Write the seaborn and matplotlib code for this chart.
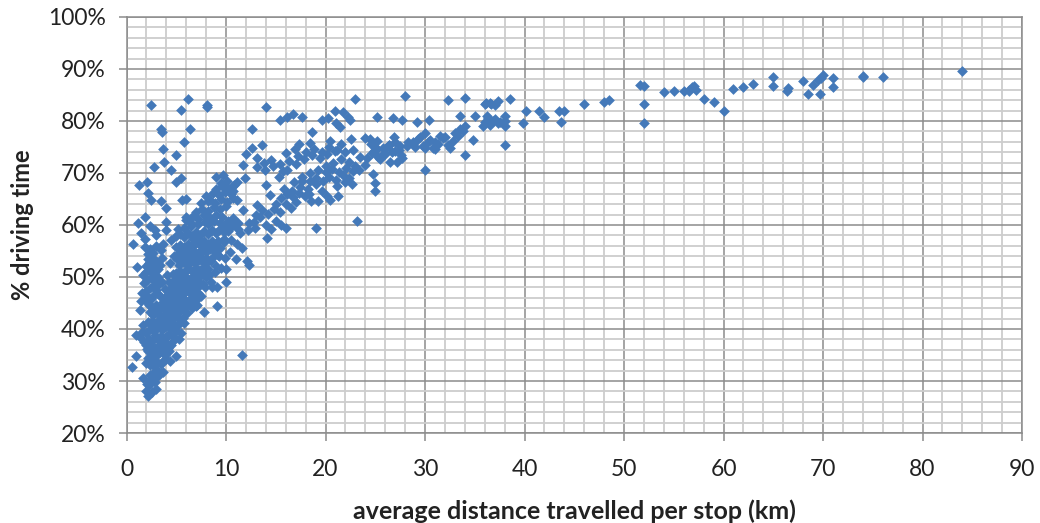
import numpy as np
import pandas as pd
import matplotlib
matplotlib.use('Agg')
import matplotlib.pyplot as plt
from matplotlib.ticker import MultipleLocator
import seaborn as sns

# values, grouped by region of the cloud
stem_km = [2.2,2.0,3.0,2.3,2.6,1.7,2.5,2.9,2.1,3.3,
           2.7,3.2,0.6,1.0,5.0,1.0,1.4,1.7,2.0,2.4,
           2.8,3.1,3.5,3.8,2.2,2.6,3.0,3.4,3.9,4.3,
           2.1,2.5,2.9,3.3,3.7,4.1,4.5,1.8,2.3,2.7,
           3.1,3.5,3.9,4.3,4.7,1.6,2.0,2.4,2.8,3.2,
           3.6,4.0,4.4,4.8,5.2,2.2,2.6,3.0,3.4,3.8,
           4.2,4.6,5.0,5.4,5.8,2.4,2.8,3.2,3.6,4.0]
stem_pct = [27.2,28.0,28.4,29.2,27.8,30.5,30.2,29.8,29.5,31.2,
            31.5,32.0,32.6,34.8,34.9,38.9,38.5,40.8,33.5,33.0,
            32.8,33.6,33.2,34.0,34.5,35.2,34.8,35.5,35.0,35.8,
            36.2,36.8,36.4,37.0,36.6,37.2,36.9,37.5,38.0,37.8,
            38.2,38.6,38.3,39.0,38.7,39.5,39.2,40.0,39.7,40.3,
            39.9,40.5,40.2,41.0,40.7,41.3,41.6,41.2,42.0,41.7,
            42.3,42.0,42.7,41.8,41.2,43.2,43.8,43.4,44.2,43.8]

# second pass over the solid part of the cloud
dense_km = [3.1,3.7,4.4,2.4,3.0,3.6,4.2,4.0,3.4,2.8,
            2.2,2.9,3.5,4.1,4.7,5.3,2.0,2.6,3.2,3.8,
            4.4,5.0,5.5,2.7,3.3,3.9,4.5,5.1,5.7,3.0,
            3.7,4.3,4.9,5.5,6.1,2.3,3.5,4.2,4.8,5.4,
            6.0,6.6,3.9,4.6,5.3,5.9,6.5,7.1,3.6,4.3,
            5.1,5.7,6.3,6.9,7.5,4.1,4.7,5.5,6.1,6.7,
            7.3,7.9,8.5,4.4,5.1,5.9,6.3,7.1,7.7,8.3,
            8.9,9.5,5.5,6.1,6.9,7.5,8.1,8.7,9.3,9.9,
            10.4,11.0,6.7,7.3,8.0,8.6,9.2,9.8,10.5,11.1,
            1.4,2.3,2.6,1.5,1.9,2.4,3.7,3.0,1.6,2.7]
dense_pct = [30.9,31.8,33.9,31.2,35.9,36.0,36.3,34.2,37.6,34.1,
             35.7,38.8,37.9,38.6,37.6,38.0,37.0,40.7,41.0,40.9,
             41.4,39.6,39.2,42.7,42.6,42.9,43.2,43.0,42.2,44.6,
             45.1,44.3,44.0,43.6,43.1,44.7,46.2,46.0,45.9,45.6,
             44.4,44.0,47.6,47.4,46.2,45.6,45.2,44.7,49.1,49.0,
             48.8,47.9,47.5,46.8,46.4,50.4,50.6,50.2,49.3,49.0,
             48.2,48.0,49.0,52.7,53.4,53.6,52.6,50.9,50.6,50.3,
             51.0,51.8,55.1,55.5,53.7,53.8,52.9,53.9,54.0,53.6,
             54.8,53.4,57.4,57.3,56.0,55.8,56.9,57.4,57.1,56.3,
             43.6,44.9,43.0,45.3,55.8,55.4,56.4,55.9,47.0,54.6]

left_km = [1.9,2.2,2.5,2.8,3.1,2.0,2.4,2.7,3.0,3.3,
           1.8,2.1,2.5,2.9,3.2,1.7,2.0,2.4,2.8,3.2,
           1.1,2.0,2.3,2.7,3.1,3.4,2.2,2.5,2.9,3.6,
           2.2,0.7,1.2,1.9,1.5,1.9,2.4,2.9,3.0,4.0,
           4.0,3.5,2.2,2.5,3.5,4.0,5.6,6.0,6.0,6.5]
left_pct = [45.5,46.2,45.8,46.5,47.0,47.3,47.8,48.2,47.5,48.6,
            48.9,49.4,49.8,49.2,50.0,50.4,50.9,51.2,50.6,51.5,
            51.9,52.2,52.6,52.0,52.9,52.3,53.4,53.8,53.2,53.6,
            54.4,56.4,60.3,61.6,58.4,57.3,59.8,59.0,58.1,60.5,
            59.0,55.2,66.1,64.8,64.7,63.2,64.8,65.0,61.6,60.3]

ridge_km = [3.8,4.2,4.6,5.0,5.4,5.8,6.2,6.6,7.0,4.0,
            4.4,4.8,5.2,5.6,6.0,6.4,6.8,7.2,4.5,4.9,
            5.3,5.7,6.1,6.5,6.9,7.3,7.7,4.8,5.2,5.6,
            6.0,6.4,6.8,7.2,7.6,8.0,5.0,5.4,5.8,6.2,
            6.6,7.0,7.4,7.8,8.2,5.3,5.7,6.1,6.5,6.9,
            7.3,7.7,8.1,8.5,9.0,4.8,5.2,5.6,6.0,6.4,
            6.8,7.2,7.6,8.0,8.4,8.8,9.2,5.0,5.4,5.8,
            6.2,6.6,7.0,7.4,7.8,8.2,8.6,9.0,9.4,9.8,
            4.5,5.0,5.4,5.8,6.2,6.6,7.0,7.4,7.8,8.2,
            8.6,9.0,9.4,9.8,10.2,5.2,5.8,6.5,7.2,7.9]
ridge_pct = [44.8,45.2,44.6,45.5,44.9,45.8,45.3,46.0,45.5,46.4,
             46.8,46.3,47.0,46.6,47.3,46.9,47.6,47.0,47.9,48.3,
             47.9,48.5,48.1,48.8,48.4,49.0,48.6,49.4,49.8,49.3,
             50.0,49.6,50.2,49.8,50.5,50.0,50.8,51.2,50.9,51.5,
             51.1,51.8,51.4,52.0,51.6,52.4,52.8,52.3,53.0,52.6,
             53.2,52.8,53.5,53.0,52.2,54.0,54.5,54.1,54.8,54.3,
             55.0,54.6,55.2,54.8,55.4,55.0,54.2,55.8,56.2,55.7,
             56.4,56.0,56.6,56.2,56.9,56.4,57.0,56.6,55.5,56.8,
             57.2,57.8,58.2,57.6,58.4,57.9,58.6,58.1,58.8,58.2,
             59.0,58.4,59.2,58.6,58.8,59.2,59.5,59.8,60.2,60.6]

band_km = [6.0,6.6,7.2,7.8,8.4,9.0,9.6,10.2,10.8,8.2,
           8.8,9.4,10.0,10.6,11.2,7.0,7.6,8.2,8.8,9.4,
           10.0,7.5,8.2,8.9,9.5,10.1,10.7,8.0,8.7,9.3,
           9.9,10.5,11.1,9.0,9.6,10.2,10.8,9.5,10.1,10.7,
           11.7,13.1,10.7,11.2,12.2,10.1,11.4,12.8,13.4,14.0,
           14.5,15.0,15.5,13.0,13.6,14.2,14.8,15.4,12.3,12.9,
           16.0,16.5,17.0,15.5,16.1,16.7,17.3,17.9,18.5,15.0,
           14.4,15.8,16.6,17.4,18.2,19.0,19.6,20.2,18.4,19.0,
           19.7,20.4,21.1,21.8,22.4,20.0,20.7,21.4,22.1,22.8,
           23.0,23.4,21.2,22.0,22.7,20.5,21.3,19.2,18.3,17.6,
           16.8,17.6,18.4,19.2,20.0,20.8,21.6,22.4,16.1,17.0,
           17.8,18.6,19.4,20.2,21.0,15.4,16.3,17.2,18.0,18.8,
           19.6,20.4,21.2,22.0,22.8,14.7,16.9,15.7,13.8,12.0]
band_pct = [61.0,61.6,61.2,61.9,61.4,62.0,61.5,60.8,61.0,60.2,
            60.7,60.3,60.0,59.8,59.2,62.5,63.0,62.6,63.4,63.0,
            63.6,64.2,64.7,64.3,65.0,64.5,65.2,65.6,66.1,65.7,
            66.3,65.9,64.8,67.0,67.5,67.1,67.7,68.0,68.5,66.5,
            62.9,63.9,61.3,60.3,59.1,59.7,58.4,60.5,61.5,60.0,
            59.2,60.8,60.0,62.0,62.8,62.2,63.0,62.5,60.3,59.4,
            64.0,63.2,64.5,65.2,65.9,65.3,66.1,65.5,64.6,64.0,
            65.8,67.0,66.5,67.3,67.0,67.8,66.6,65.5,68.4,69.0,
            68.4,69.2,68.6,69.6,69.0,70.2,70.8,70.2,71.0,70.4,
            71.4,70.6,67.5,68.2,67.8,64.9,65.6,64.7,66.0,68.5,
            68.3,69.2,70.0,70.6,71.4,71.9,72.6,72.1,70.6,71.8,
            72.6,73.4,72.8,73.7,74.3,71.8,72.4,73.2,74.0,74.6,
            74.0,75.0,74.4,74.0,74.5,71.4,74.6,70.3,72.0,73.6]

mid_km = [23.5,24.0,24.6,25.2,25.8,26.4,27.0,27.6,28.2,28.8,
          24.2,24.7,25.2,25.7,26.2,26.7,27.2,27.7,24.5,25.0,
          25.5,26.0,26.5,27.0,27.5,26.4,26.9,27.4,25.3,24.9,
          28.3,28.8,29.3,29.8,30.3,30.8,31.3,31.8,32.3,32.8,
          33.3,33.8,29.0,29.5,30.0,30.5,31.0,31.5,32.0,32.5,
          33.0,34.0,33.5,31.0,30.0,34.8,36.0,36.5,37.0,37.5,
          35.8,36.2,36.8,37.3,36.3,35.0,38.0,38.0,38.0,38.0]
mid_pct = [73.0,76.7,75.6,76.2,74.8,75.4,74.2,73.4,75.2,76.0,
           72.8,73.8,74.7,73.4,75.0,74.0,72.2,72.9,76.5,75.0,
           72.7,73.6,72.2,76.0,75.2,75.3,77.0,74.5,73.0,74.2,
           76.0,75.6,76.6,75.2,76.0,74.9,75.6,76.8,75.4,76.2,
           77.2,78.0,75.0,77.0,77.6,76.4,75.9,77.2,77.0,74.8,
           77.6,79.0,78.4,74.6,74.8,76.3,79.8,79.2,80.4,79.8,
           79.0,81.0,80.0,79.6,80.5,81.0,81.0,80.0,79.0,75.4]

# loose points above and below the main cloud
stray_km = [2.5,6.2,5.5,8.1,8.1,14.0,3.5,3.6,6.4,5.8,
            3.7,5.0,3.8,2.8,4.5,5.5,5.0,1.3,2.1,9.0,
            9.7,11.9,12.6,12.6,13.6,15.4,16.1,16.7,17.6,19.6,
            20.3,21.0,21.8,22.3,22.5,21.1,21.5,23.0,18.6,17.3,
            18.4,20.5,21.6,22.6,16.0,11.7,14.5,13.1,13.1,13.9,
            15.3,14.0,23.2,19.0,16.0,14.1,11.6,12.1,12.3,11.6,
            10.0,9.1,8.6,9.1,7.8,7.0,10.0,8.4,10.6,11.1,
            28.0,32.3,34.0,36.1,36.6,25.2,26.8,27.7,29.2,30.4,
            33.5,30.0,25.0,25.0,24.8,24.0,34.0]
stray_pct = [83.0,84.2,82.1,83.0,82.6,82.6,78.4,77.8,78.5,76.0,
             74.6,73.5,72.1,71.1,70.6,69.0,68.2,67.6,68.2,69.3,
             69.6,69.1,74.8,78.4,75.4,80.1,80.7,81.4,80.7,80.1,
             80.5,82.0,81.8,80.8,80.1,79.6,78.9,84.2,77.8,75.6,
             75.7,76.2,75.6,76.5,73.9,71.6,72.5,72.8,71.2,70.6,
             69.2,67.6,60.8,59.5,59.5,57.5,35.0,53.0,52.3,55.5,
             49.1,48.1,48.0,44.4,43.2,44.4,51.6,64.9,67.4,68.3,
             84.9,84.0,84.4,83.5,83.2,80.8,80.6,80.2,79.8,80.2,
             81.0,70.6,66.6,68.1,69.9,71.5,73.5]

tail_km = [84,76,74,74,71,71,70,69.8,69.5,69,
           69.7,68.5,68,66.5,66.4,65,65,63,62,61,
           60,59,58,57.2,57,56.8,56.5,56.5,56,55,
           54,52,51.6,52,52,48.5,48,46,44,43.5,
           43.7,42,41.5,40.2,39.8,38.5,37.3,37,36.5,36]
tail_pct = [89.7,88.4,88.5,88.7,88.2,86.5,88.8,88.3,87.8,87,
            85.2,85.2,87.6,86.3,85.7,88.5,86.7,87.2,86.5,86.2,
            82,83.6,84.2,86,86.8,86.5,86,85.8,85.8,85.7,
            85.5,86.7,87,83.2,79.6,84,83.7,83.3,82,82,
            79.8,80.8,82,82,79.7,84.2,83.8,83,83.5,83.2]

y_ticks = [20, 30, 40, 50, 60, 70, 80, 90, 100]
x_ticks = [0, 10, 20, 30, 40, 50, 60, 70, 80, 90]

df = pd.DataFrame({
    'km': np.concatenate([stem_km, dense_km, left_km, ridge_km, band_km, mid_km, stray_km, tail_km]),
    'pct': np.concatenate([stem_pct, dense_pct, left_pct, ridge_pct, band_pct, mid_pct, stray_pct, tail_pct]),
})

sns.set_theme(style='white')
plt.rcParams['font.family'] = ['Lato', 'DejaVu Sans']

fig = plt.figure(figsize=(10.4, 5.23), dpi=100)
ax = fig.add_axes([126.5 / 1040, 1 - 433 / 523, (1022 - 126.5) / 1040, (433 - 17) / 523])

sns.scatterplot(data=df, x='km', y='pct', marker='D', s=30, color='#4479b9',
                linewidth=0, ax=ax, zorder=3, clip_on=False)

ax.set_xlim(0, 90)
ax.set_ylim(20, 100)
ax.set_xticks(x_ticks)
ax.set_yticks(y_ticks)
ax.set_yticklabels(['{}%'.format(t) for t in y_ticks])
ax.xaxis.set_minor_locator(MultipleLocator(2))
ax.yaxis.set_minor_locator(MultipleLocator(2))

ax.grid(which='minor', color='#cdcdcd', linewidth=1.3, zorder=0)
ax.grid(which='major', color='#8c8c8c', linewidth=1.1, zorder=1)
ax.set_axisbelow(True)
for s in ax.spines.values():
    s.set_color('#8c8c8c')
    s.set_linewidth(1.1)

ax.tick_params(axis='both', which='major', length=6, width=1.1, color='#8c8c8c',
               labelsize=16.5, labelcolor='#222222', left=True, bottom=True)
ax.tick_params(axis='x', which='major', pad=13)
ax.tick_params(axis='y', which='major', pad=9)
ax.tick_params(axis='both', which='minor', length=0)

ax.set_xlabel('average distance travelled per stop (km)', fontsize=18,
              fontweight='bold', color='#222222', labelpad=14)
ax.set_ylabel('% driving time', fontsize=17, fontweight='bold', color='#222222', labelpad=10)

fig.savefig('out.png', dpi=100)
